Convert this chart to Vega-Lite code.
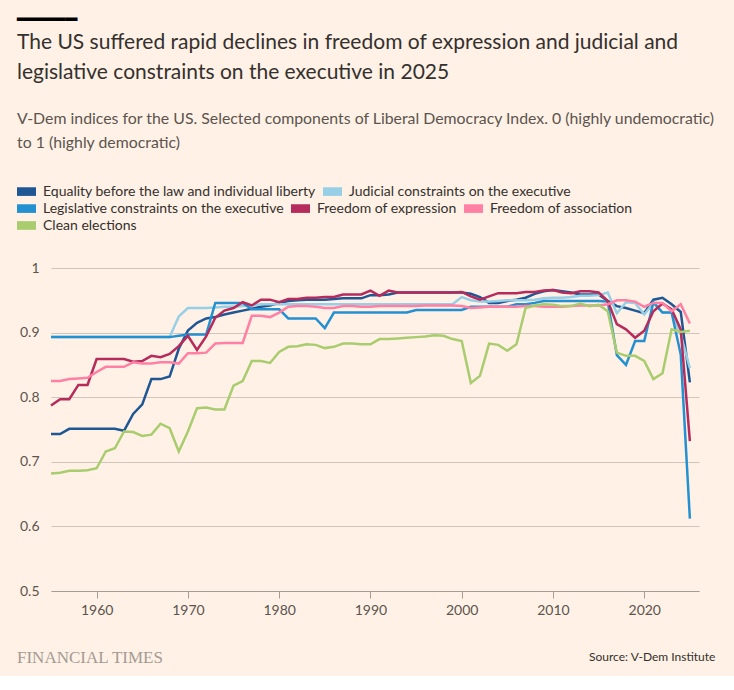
{
  "$schema": "https://vega.github.io/schema/vega-lite/v6.json",
  "background": "#fff1e5",
  "padding": {"left": 17, "top": 10, "right": 18, "bottom": 10},
  "datasets": {
    "equality": [
      {"year":1955,"value":0.743},{"year":1956,"value":0.743},{"year":1957,"value":0.751},{"year":1958,"value":0.751},{"year":1959,"value":0.751},
      {"year":1960,"value":0.751},{"year":1961,"value":0.751},{"year":1962,"value":0.751},{"year":1963,"value":0.748},{"year":1964,"value":0.774},
      {"year":1965,"value":0.789},{"year":1966,"value":0.828},{"year":1967,"value":0.828},{"year":1968,"value":0.832},{"year":1969,"value":0.875},
      {"year":1970,"value":0.903},{"year":1971,"value":0.915},{"year":1972,"value":0.922},{"year":1973,"value":0.924},{"year":1974,"value":0.928},
      {"year":1975,"value":0.931},{"year":1976,"value":0.934},{"year":1977,"value":0.937},{"year":1978,"value":0.940},{"year":1979,"value":0.942},
      {"year":1980,"value":0.946},{"year":1981,"value":0.949},{"year":1982,"value":0.950},{"year":1983,"value":0.951},{"year":1984,"value":0.951},
      {"year":1985,"value":0.951},{"year":1986,"value":0.952},{"year":1987,"value":0.953},{"year":1988,"value":0.953},{"year":1989,"value":0.953},
      {"year":1990,"value":0.958},{"year":1991,"value":0.958},{"year":1992,"value":0.959},{"year":1993,"value":0.962},{"year":1994,"value":0.962},
      {"year":1995,"value":0.962},{"year":1996,"value":0.962},{"year":1997,"value":0.962},{"year":1998,"value":0.962},{"year":1999,"value":0.962},
      {"year":2000,"value":0.962},{"year":2001,"value":0.960},{"year":2002,"value":0.955},{"year":2003,"value":0.946},{"year":2004,"value":0.946},
      {"year":2005,"value":0.949},{"year":2006,"value":0.951},{"year":2007,"value":0.954},{"year":2008,"value":0.960},{"year":2009,"value":0.964},
      {"year":2010,"value":0.966},{"year":2011,"value":0.964},{"year":2012,"value":0.962},{"year":2013,"value":0.959},{"year":2014,"value":0.959},
      {"year":2015,"value":0.959},{"year":2016,"value":0.949},{"year":2017,"value":0.941},{"year":2018,"value":0.938},{"year":2019,"value":0.934},
      {"year":2020,"value":0.930},{"year":2021,"value":0.951},{"year":2022,"value":0.954},{"year":2023,"value":0.944},{"year":2024,"value":0.932},
      {"year":2025,"value":0.823}
    ],
    "judicial": [
      {"year":1955,"value":0.893},{"year":1956,"value":0.893},{"year":1957,"value":0.893},{"year":1958,"value":0.893},{"year":1959,"value":0.893},
      {"year":1960,"value":0.893},{"year":1961,"value":0.893},{"year":1962,"value":0.893},{"year":1963,"value":0.893},{"year":1964,"value":0.893},
      {"year":1965,"value":0.893},{"year":1966,"value":0.893},{"year":1967,"value":0.893},{"year":1968,"value":0.893},{"year":1969,"value":0.925},
      {"year":1970,"value":0.938},{"year":1971,"value":0.938},{"year":1972,"value":0.938},{"year":1973,"value":0.939},{"year":1974,"value":0.940},
      {"year":1975,"value":0.940},{"year":1976,"value":0.941},{"year":1977,"value":0.942},{"year":1978,"value":0.944},{"year":1979,"value":0.944},
      {"year":1980,"value":0.944},{"year":1981,"value":0.944},{"year":1982,"value":0.944},{"year":1983,"value":0.944},{"year":1984,"value":0.944},
      {"year":1985,"value":0.944},{"year":1986,"value":0.944},{"year":1987,"value":0.944},{"year":1988,"value":0.944},{"year":1989,"value":0.944},
      {"year":1990,"value":0.944},{"year":1991,"value":0.944},{"year":1992,"value":0.944},{"year":1993,"value":0.944},{"year":1994,"value":0.944},
      {"year":1995,"value":0.944},{"year":1996,"value":0.944},{"year":1997,"value":0.944},{"year":1998,"value":0.944},{"year":1999,"value":0.944},
      {"year":2000,"value":0.955},{"year":2001,"value":0.950},{"year":2002,"value":0.948},{"year":2003,"value":0.948},{"year":2004,"value":0.949},
      {"year":2005,"value":0.950},{"year":2006,"value":0.950},{"year":2007,"value":0.950},{"year":2008,"value":0.951},{"year":2009,"value":0.953},
      {"year":2010,"value":0.954},{"year":2011,"value":0.954},{"year":2012,"value":0.955},{"year":2013,"value":0.957},{"year":2014,"value":0.957},
      {"year":2015,"value":0.958},{"year":2016,"value":0.962},{"year":2017,"value":0.930},{"year":2018,"value":0.947},{"year":2019,"value":0.946},
      {"year":2020,"value":0.928},{"year":2021,"value":0.946},{"year":2022,"value":0.931},{"year":2023,"value":0.931},{"year":2024,"value":0.897},
      {"year":2025,"value":0.845}
    ],
    "legislative": [
      {"year":1955,"value":0.893},{"year":1956,"value":0.893},{"year":1957,"value":0.893},{"year":1958,"value":0.893},{"year":1959,"value":0.893},
      {"year":1960,"value":0.893},{"year":1961,"value":0.893},{"year":1962,"value":0.893},{"year":1963,"value":0.893},{"year":1964,"value":0.893},
      {"year":1965,"value":0.893},{"year":1966,"value":0.893},{"year":1967,"value":0.893},{"year":1968,"value":0.893},{"year":1969,"value":0.895},
      {"year":1970,"value":0.897},{"year":1971,"value":0.897},{"year":1972,"value":0.897},{"year":1973,"value":0.946},{"year":1974,"value":0.946},
      {"year":1975,"value":0.946},{"year":1976,"value":0.946},{"year":1977,"value":0.936},{"year":1978,"value":0.936},{"year":1979,"value":0.936},
      {"year":1980,"value":0.936},{"year":1981,"value":0.922},{"year":1982,"value":0.922},{"year":1983,"value":0.922},{"year":1984,"value":0.922},
      {"year":1985,"value":0.907},{"year":1986,"value":0.931},{"year":1987,"value":0.931},{"year":1988,"value":0.931},{"year":1989,"value":0.931},
      {"year":1990,"value":0.931},{"year":1991,"value":0.931},{"year":1992,"value":0.931},{"year":1993,"value":0.931},{"year":1994,"value":0.931},
      {"year":1995,"value":0.935},{"year":1996,"value":0.935},{"year":1997,"value":0.935},{"year":1998,"value":0.935},{"year":1999,"value":0.935},
      {"year":2000,"value":0.935},{"year":2001,"value":0.940},{"year":2002,"value":0.940},{"year":2003,"value":0.940},{"year":2004,"value":0.940},
      {"year":2005,"value":0.940},{"year":2006,"value":0.944},{"year":2007,"value":0.944},{"year":2008,"value":0.946},{"year":2009,"value":0.949},
      {"year":2010,"value":0.949},{"year":2011,"value":0.949},{"year":2012,"value":0.949},{"year":2013,"value":0.949},{"year":2014,"value":0.949},
      {"year":2015,"value":0.949},{"year":2016,"value":0.948},{"year":2017,"value":0.865},{"year":2018,"value":0.850},{"year":2019,"value":0.887},
      {"year":2020,"value":0.887},{"year":2021,"value":0.947},{"year":2022,"value":0.931},{"year":2023,"value":0.931},{"year":2024,"value":0.866},
      {"year":2025,"value":0.612}
    ],
    "expression": [
      {"year":1955,"value":0.787},{"year":1956,"value":0.797},{"year":1957,"value":0.797},{"year":1958,"value":0.819},{"year":1959,"value":0.819},
      {"year":1960,"value":0.859},{"year":1961,"value":0.859},{"year":1962,"value":0.859},{"year":1963,"value":0.859},{"year":1964,"value":0.855},
      {"year":1965,"value":0.856},{"year":1966,"value":0.864},{"year":1967,"value":0.862},{"year":1968,"value":0.867},{"year":1969,"value":0.879},
      {"year":1970,"value":0.895},{"year":1971,"value":0.873},{"year":1972,"value":0.894},{"year":1973,"value":0.923},{"year":1974,"value":0.934},
      {"year":1975,"value":0.938},{"year":1976,"value":0.947},{"year":1977,"value":0.942},{"year":1978,"value":0.951},{"year":1979,"value":0.951},
      {"year":1980,"value":0.947},{"year":1981,"value":0.952},{"year":1982,"value":0.952},{"year":1983,"value":0.954},{"year":1984,"value":0.954},
      {"year":1985,"value":0.955},{"year":1986,"value":0.955},{"year":1987,"value":0.959},{"year":1988,"value":0.959},{"year":1989,"value":0.959},
      {"year":1990,"value":0.965},{"year":1991,"value":0.957},{"year":1992,"value":0.965},{"year":1993,"value":0.962},{"year":1994,"value":0.962},
      {"year":1995,"value":0.962},{"year":1996,"value":0.962},{"year":1997,"value":0.962},{"year":1998,"value":0.962},{"year":1999,"value":0.962},
      {"year":2000,"value":0.963},{"year":2001,"value":0.956},{"year":2002,"value":0.951},{"year":2003,"value":0.956},{"year":2004,"value":0.961},
      {"year":2005,"value":0.961},{"year":2006,"value":0.961},{"year":2007,"value":0.963},{"year":2008,"value":0.963},{"year":2009,"value":0.965},
      {"year":2010,"value":0.966},{"year":2011,"value":0.962},{"year":2012,"value":0.961},{"year":2013,"value":0.964},{"year":2014,"value":0.964},
      {"year":2015,"value":0.962},{"year":2016,"value":0.949},{"year":2017,"value":0.913},{"year":2018,"value":0.905},{"year":2019,"value":0.892},
      {"year":2020,"value":0.903},{"year":2021,"value":0.933},{"year":2022,"value":0.945},{"year":2023,"value":0.936},{"year":2024,"value":0.905},
      {"year":2025,"value":0.732}
    ],
    "association": [
      {"year":1955,"value":0.825},{"year":1956,"value":0.825},{"year":1957,"value":0.828},{"year":1958,"value":0.829},{"year":1959,"value":0.830},
      {"year":1960,"value":0.839},{"year":1961,"value":0.847},{"year":1962,"value":0.847},{"year":1963,"value":0.847},{"year":1964,"value":0.854},
      {"year":1965,"value":0.852},{"year":1966,"value":0.852},{"year":1967,"value":0.854},{"year":1968,"value":0.854},{"year":1969,"value":0.852},
      {"year":1970,"value":0.868},{"year":1971,"value":0.868},{"year":1972,"value":0.869},{"year":1973,"value":0.883},{"year":1974,"value":0.884},
      {"year":1975,"value":0.884},{"year":1976,"value":0.884},{"year":1977,"value":0.926},{"year":1978,"value":0.926},{"year":1979,"value":0.924},
      {"year":1980,"value":0.931},{"year":1981,"value":0.940},{"year":1982,"value":0.941},{"year":1983,"value":0.941},{"year":1984,"value":0.940},
      {"year":1985,"value":0.938},{"year":1986,"value":0.938},{"year":1987,"value":0.941},{"year":1988,"value":0.941},{"year":1989,"value":0.940},
      {"year":1990,"value":0.940},{"year":1991,"value":0.941},{"year":1992,"value":0.941},{"year":1993,"value":0.941},{"year":1994,"value":0.941},
      {"year":1995,"value":0.941},{"year":1996,"value":0.942},{"year":1997,"value":0.942},{"year":1998,"value":0.942},{"year":1999,"value":0.942},
      {"year":2000,"value":0.941},{"year":2001,"value":0.938},{"year":2002,"value":0.939},{"year":2003,"value":0.940},{"year":2004,"value":0.940},
      {"year":2005,"value":0.940},{"year":2006,"value":0.940},{"year":2007,"value":0.941},{"year":2008,"value":0.941},{"year":2009,"value":0.940},
      {"year":2010,"value":0.940},{"year":2011,"value":0.940},{"year":2012,"value":0.941},{"year":2013,"value":0.942},{"year":2014,"value":0.942},
      {"year":2015,"value":0.942},{"year":2016,"value":0.944},{"year":2017,"value":0.950},{"year":2018,"value":0.950},{"year":2019,"value":0.948},
      {"year":2020,"value":0.940},{"year":2021,"value":0.946},{"year":2022,"value":0.946},{"year":2023,"value":0.933},{"year":2024,"value":0.944},
      {"year":2025,"value":0.914}
    ],
    "elections": [
      {"year":1955,"value":0.682},{"year":1956,"value":0.683},{"year":1957,"value":0.686},{"year":1958,"value":0.686},{"year":1959,"value":0.687},
      {"year":1960,"value":0.690},{"year":1961,"value":0.716},{"year":1962,"value":0.721},{"year":1963,"value":0.747},{"year":1964,"value":0.746},
      {"year":1965,"value":0.740},{"year":1966,"value":0.742},{"year":1967,"value":0.759},{"year":1968,"value":0.752},{"year":1969,"value":0.716},
      {"year":1970,"value":0.747},{"year":1971,"value":0.783},{"year":1972,"value":0.784},{"year":1973,"value":0.781},{"year":1974,"value":0.781},
      {"year":1975,"value":0.818},{"year":1976,"value":0.825},{"year":1977,"value":0.856},{"year":1978,"value":0.856},{"year":1979,"value":0.853},
      {"year":1980,"value":0.870},{"year":1981,"value":0.878},{"year":1982,"value":0.879},{"year":1983,"value":0.882},{"year":1984,"value":0.881},
      {"year":1985,"value":0.876},{"year":1986,"value":0.878},{"year":1987,"value":0.883},{"year":1988,"value":0.883},{"year":1989,"value":0.882},
      {"year":1990,"value":0.882},{"year":1991,"value":0.890},{"year":1992,"value":0.890},{"year":1993,"value":0.891},{"year":1994,"value":0.892},
      {"year":1995,"value":0.893},{"year":1996,"value":0.894},{"year":1997,"value":0.896},{"year":1998,"value":0.895},{"year":1999,"value":0.890},
      {"year":2000,"value":0.887},{"year":2001,"value":0.822},{"year":2002,"value":0.833},{"year":2003,"value":0.883},{"year":2004,"value":0.881},
      {"year":2005,"value":0.872},{"year":2006,"value":0.882},{"year":2007,"value":0.938},{"year":2008,"value":0.942},{"year":2009,"value":0.944},
      {"year":2010,"value":0.943},{"year":2011,"value":0.941},{"year":2012,"value":0.941},{"year":2013,"value":0.945},{"year":2014,"value":0.941},
      {"year":2015,"value":0.943},{"year":2016,"value":0.933},{"year":2017,"value":0.869},{"year":2018,"value":0.864},{"year":2019,"value":0.864},
      {"year":2020,"value":0.856},{"year":2021,"value":0.828},{"year":2022,"value":0.837},{"year":2023,"value":0.905},{"year":2024,"value":0.901},
      {"year":2025,"value":0.903}
    ]
  },
  "title": {
    "text": "Source: V-Dem Institute",
    "orient": "bottom",
    "anchor": "end",
    "offset": -14,
    "font": "Lato",
    "fontSize": 12,
    "fontWeight": "normal",
    "color": "#33302e"
  },
  "vconcat": [
    {
      "title": {
        "text": "FINANCIAL TIMES",
        "orient": "bottom",
        "anchor": "start",
        "offset": 33,
        "font": "Liberation Serif",
        "fontSize": 17,
        "fontWeight": "normal",
        "color": "#a39b94"
      },
      "vconcat": [
        {
          "title": {
            "text": "━━━━━",
            "anchor": "start",
            "font": "DejaVu Sans",
            "fontSize": 20,
            "fontWeight": "normal",
            "color": "#000000",
            "offset": 2
          },
          "vconcat": [
            {
              "width": 648,
              "height": 323,
              "title": {
                "text": ["The US suffered rapid declines in freedom of expression and judicial and", "legislative constraints on the executive in 2025"],
                "subtitle": ["V-Dem indices for the US. Selected components of Liberal Democracy Index. 0 (highly undemocratic)", "to 1 (highly democratic)"],
                "anchor": "start",
                "font": "Lato",
                "fontSize": 21,
                "fontWeight": "normal",
                "lineHeight": 30,
                "color": "#33302e",
                "subtitleFont": "Lato",
                "subtitleFontSize": 15.85,
                "subtitleLineHeight": 24,
                "subtitleColor": "#5b544f",
                "subtitlePadding": 28,
                "offset": 31
              },
              "encoding": {
                "x": {
                  "field": "year",
                  "type": "quantitative",
                  "scale": {"domain": [1955, 2026], "nice": false, "zero": false},
                  "axis": {
                    "title": null,
                    "values": [1960, 1970, 1980, 1990, 2000, 2010, 2020],
                    "format": "d",
                    "grid": false,
                    "domainColor": "#a59c93",
                    "tickColor": "#a59c93",
                    "tickSize": 7,
                    "labelPadding": 5,
                    "labelFont": "Lato",
                    "labelFontSize": 14,
                    "labelColor": "#5b544f"
                  }
                },
                "y": {
                  "field": "value",
                  "type": "quantitative",
                  "scale": {"domain": [0.5, 1], "nice": false, "zero": false},
                  "axis": {
                    "title": null,
                    "values": [0.5, 0.6, 0.7, 0.8, 0.9, 1],
                    "format": "~g",
                    "domain": false,
                    "ticks": false,
                    "gridColor": "#cfc5bb",
                    "labelPadding": 12,
                    "labelFont": "Lato",
                    "labelFontSize": 14,
                    "labelColor": "#5b544f"
                  }
                }
              },
              "layer": [
                {
                  "layer": [
                    {
                      "data": {"name": "equality"},
                      "mark": {"type": "line", "strokeWidth": 2.5},
                      "encoding": {
                        "color": {
                          "datum": "Equality before the law and individual liberty",
                          "type": "nominal",
                          "title": null,
                          "scale": {"domain": ["Equality before the law and individual liberty", "Judicial constraints on the executive"], "range": ["#1e5794", "#96cfe6"]},
                          "legend": {"orient": "none", "legendX": -34, "legendY": -86}
                        }
                      }
                    },
                    {
                      "data": {"name": "judicial"},
                      "mark": {"type": "line", "strokeWidth": 2.5},
                      "encoding": {
                        "color": {
                          "datum": "Judicial constraints on the executive",
                          "type": "nominal",
                          "title": null,
                          "scale": {"domain": ["Equality before the law and individual liberty", "Judicial constraints on the executive"], "range": ["#1e5794", "#96cfe6"]},
                          "legend": {"orient": "none", "legendX": -34, "legendY": -86}
                        }
                      }
                    }
                  ]
                },
                {
                  "layer": [
                    {
                      "data": {"name": "legislative"},
                      "mark": {"type": "line", "strokeWidth": 2.5},
                      "encoding": {
                        "color": {
                          "datum": "Legislative constraints on the executive",
                          "type": "nominal",
                          "title": null,
                          "scale": {"domain": ["Legislative constraints on the executive", "Freedom of expression", "Freedom of association"], "range": ["#2390d2", "#b52b5b", "#ff80a5"]},
                          "legend": {"orient": "none", "legendX": -34, "legendY": -69}
                        }
                      }
                    },
                    {
                      "data": {"name": "expression"},
                      "mark": {"type": "line", "strokeWidth": 2.5},
                      "encoding": {
                        "color": {
                          "datum": "Freedom of expression",
                          "type": "nominal",
                          "title": null,
                          "scale": {"domain": ["Legislative constraints on the executive", "Freedom of expression", "Freedom of association"], "range": ["#2390d2", "#b52b5b", "#ff80a5"]},
                          "legend": {"orient": "none", "legendX": -34, "legendY": -69}
                        }
                      }
                    },
                    {
                      "data": {"name": "association"},
                      "mark": {"type": "line", "strokeWidth": 2.5},
                      "encoding": {
                        "color": {
                          "datum": "Freedom of association",
                          "type": "nominal",
                          "title": null,
                          "scale": {"domain": ["Legislative constraints on the executive", "Freedom of expression", "Freedom of association"], "range": ["#2390d2", "#b52b5b", "#ff80a5"]},
                          "legend": {"orient": "none", "legendX": -34, "legendY": -69}
                        }
                      }
                    }
                  ]
                },
                {
                  "layer": [
                    {
                      "data": {"name": "elections"},
                      "mark": {"type": "line", "strokeWidth": 2.5},
                      "encoding": {
                        "color": {
                          "datum": "Clean elections",
                          "type": "nominal",
                          "title": null,
                          "scale": {"domain": ["Clean elections"], "range": ["#a8cc6e"]},
                          "legend": {"orient": "none", "legendX": -34, "legendY": -52}
                        }
                      }
                    }
                  ]
                }
              ],
              "resolve": {"scale": {"color": "independent"}}
            }
          ]
        }
      ]
    }
  ],
  "config": {
    "view": {"stroke": null},
    "legend": {
      "direction": "horizontal",
      "symbolType": "M-1,-0.06H1V0.06H-1Z",
      "symbolSize": 121,
      "symbolStrokeWidth": 8,
      "labelFont": "Lato",
      "labelFontSize": 14,
      "labelColor": "#33302e",
      "labelLimit": 400,
      "labelOffset": 7,
      "columnPadding": -5,
      "padding": 0
    }
  }
}
